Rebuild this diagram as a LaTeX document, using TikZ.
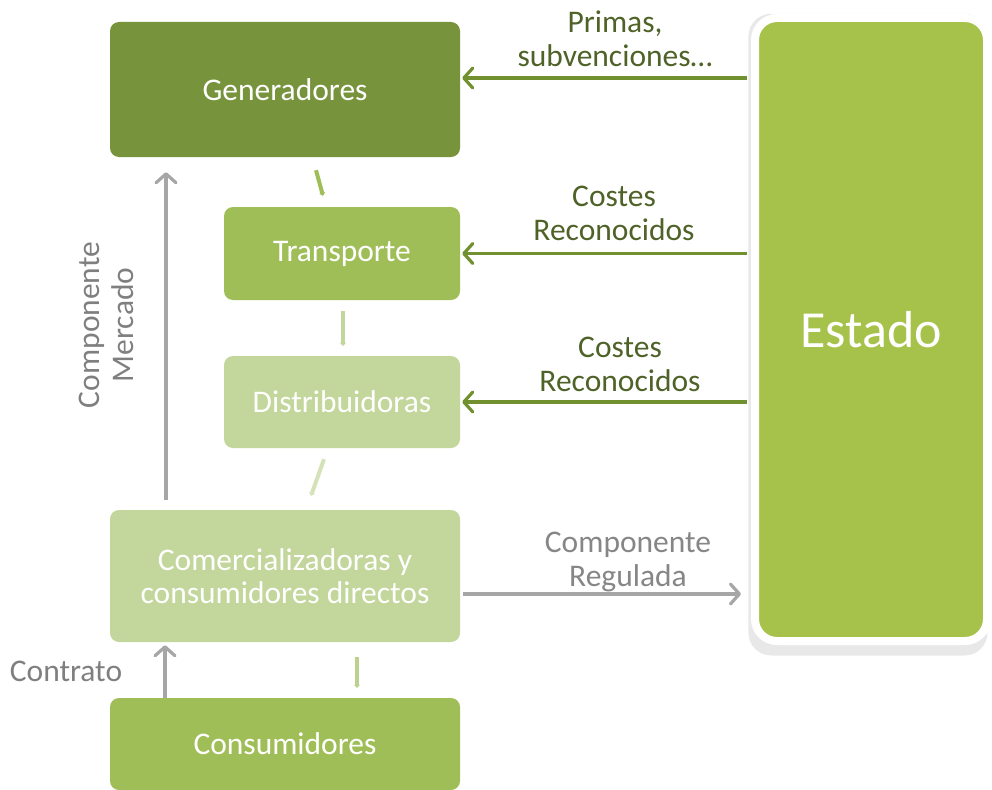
\documentclass[tikz,border=0pt]{standalone}
\usepackage{fontspec}
\setmainfont{Carlito}
\usetikzlibrary{arrows.meta,shadows}
\definecolor{gendark}{HTML}{77933C}
\definecolor{transgreen}{HTML}{A0BE58}
\definecolor{distgreen}{HTML}{C3D69B}
\definecolor{estgreen}{HTML}{A6C24A}
\definecolor{labelgreen}{HTML}{4F6228}
\definecolor{arrowgreen}{HTML}{71902F}
\definecolor{arrowgray}{HTML}{A6A6A6}
\definecolor{labelgray}{HTML}{7F7F7F}
\tikzstyle{block} = [rectangle, rounded corners=9pt, text=white, align=center, font=\fontsize{31.5}{33}\selectfont]
\tikzstyle{lbl} = [align=center, font=\fontsize{31.5}{34}\selectfont]
\tikzset{edge/.style = {
    line width=3.2pt,
    -{Straight Barb[length=9pt,width=20pt,round]},
  }
}
\tikzset{link/.style = {line width=4pt, -{Triangle[length=3pt,width=6pt]}}}

\begin{document}
\begin{tikzpicture}[x=1pt,y=-1pt]
            \useasboundingbox (0,0) rectangle (992,789);
            % vertices
            \node[block, fill=gendark, minimum width=350pt, minimum height=135pt] (gen) at (285,89.5) {Generadores};
            \node[block, fill=transgreen, minimum width=236pt, minimum height=93pt] (trans) at (342,253.5) {Transporte};
            \node[block, fill=distgreen, minimum width=236pt, minimum height=92pt] (dist) at (342,402) {Distribuidoras};
            \node[block, fill=distgreen, minimum width=350pt, minimum height=132pt] (comer) at (285,576) {Comercializadoras y\\consumidores directos};
            \node[block, fill=transgreen, minimum width=350pt, minimum height=92pt] (cons) at (285,744) {Consumidores};
            \node[block, fill=estgreen, draw=white, line width=8pt, rounded corners=22pt,
                  minimum width=232pt, minimum height=623pt, font=\fontsize{52}{56}\selectfont,
                  drop shadow={shadow xshift=-3pt, shadow yshift=-5pt, shadow scale=1.03, opacity=0.15, fill=black!60}] (estado) at (871,329.5) {Estado};

            % labels
            \node[lbl, text=labelgreen] (prim) at (615,39) {Primas,\\subvenciones…};
            \node[lbl, text=labelgreen] (coste1) at (614,213) {Costes\\Reconocidos};
            \node[lbl, text=labelgreen] (coste2) at (620,364) {Costes\\Reconocidos};
            \node[lbl, text=labelgray] (mercado) at (106,325) [rotate=90] {Componente\\Mercado};
            \node[lbl, text=labelgray] (contrato) at (66,671) {Contrato};

            %edges
            \coordinate (g1) at ([yshift=11.5pt]gen.east);
            \draw[edge, arrowgreen] ([xshift=-4pt]estado.west |- g1) -- ([xshift=2pt]g1);
            \draw[edge, arrowgreen] ([xshift=-4pt]estado.west |- trans.east) -- ([xshift=2pt]trans.east);
            \draw[edge, arrowgreen] ([xshift=-4pt]estado.west |- dist.east) -- ([xshift=2pt]dist.east);

            \coordinate (c1) at ([yshift=-18pt,xshift=3pt]comer.east);
            \draw[edge, arrowgray] (c1) -- ([xshift=-10pt]estado.west |- c1);
            \node[lbl, text=labelgray, opacity=0.95] (compreg) at (628,562) {Componente\\Regulada};
            \draw[edge, arrowgray] ([xshift=-119pt,yshift=10pt]comer.north) -- ([xshift=-119pt,yshift=-15pt]gen.south);
            \draw[edge, arrowgray] ([xshift=-120pt]cons.north) -- ([xshift=-120pt,yshift=-3pt]comer.south);

            %flow links
            \draw[link, transgreen] ([xshift=31pt,yshift=-13pt]gen.south) to ([xshift=-19pt,yshift=11pt]trans.north);
            \draw[link, distgreen] ([xshift=1pt,yshift=-11pt]trans.south) to ([xshift=1pt,yshift=10pt]dist.north);
            \draw[link, distgreen!70] ([xshift=-18pt,yshift=-11pt]dist.south) to ([xshift=26pt,yshift=14pt]comer.north);
            \draw[link, distgreen!80!transgreen] ([xshift=72pt,yshift=-15pt]comer.south) to ([xshift=72pt,yshift=10pt]cons.north);
          \end{tikzpicture}
\end{document}
